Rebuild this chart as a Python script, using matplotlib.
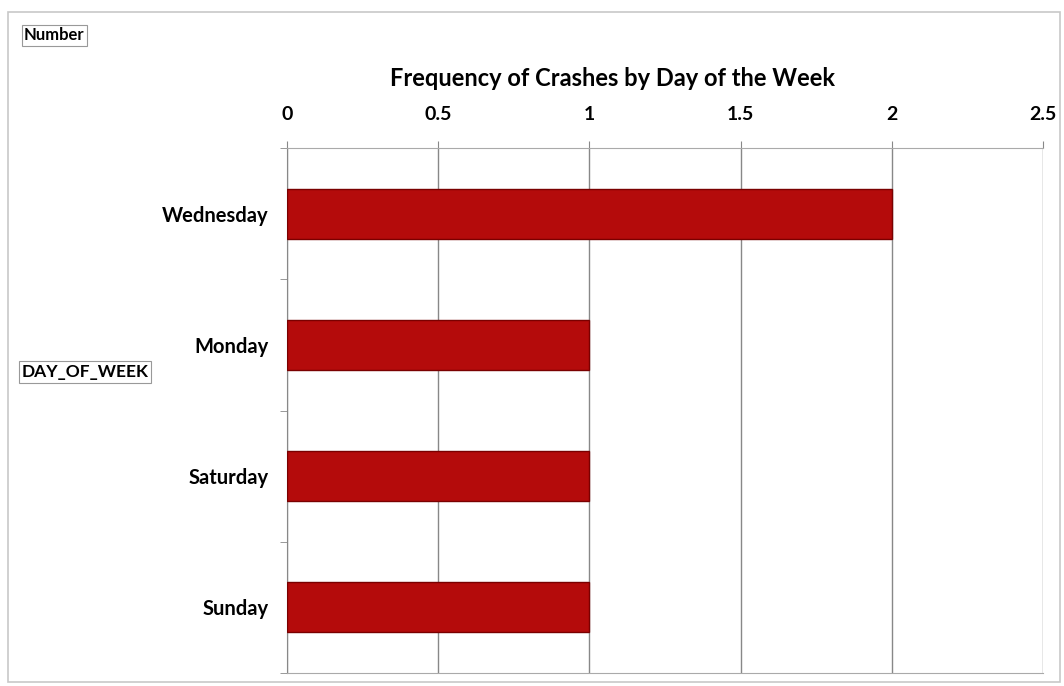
import matplotlib.pyplot as plt
from matplotlib.patches import Rectangle
import numpy as np

days = ['Wednesday', 'Monday', 'Saturday', 'Sunday']
crashes = [2, 1, 1, 1]
x_ticks = [0, 0.5, 1, 1.5, 2, 2.5]
x_labels = ['0', '0.5', '1', '1.5', '2', '2.5']

plt.rcParams['font.family'] = ['Lato', 'DejaVu Sans']
plt.rcParams['font.weight'] = 'bold'

W, H = 1064, 686
fig = plt.figure(figsize=(W / 100, H / 100), dpi=100)
fig.patch.set_facecolor('white')

# outer chart border
fig.patches.append(Rectangle((8 / W, 4 / H), 1052 / W, 670 / H, transform=fig.transFigure,
                             fill=False, edgecolor='#c8c8c8', linewidth=1.2))

ax = fig.add_axes([287 / W, (H - 673) / H, (1043 - 287) / W, (673 - 148) / H])
ypos = np.arange(len(days))
ax.barh(ypos, crashes, height=0.38, color='#b40b0b', edgecolor='#7a0000', linewidth=1, zorder=3)

ax.set_ylim(len(days) - 0.5, -0.5)
ax.set_xlim(0, 2.5)
ax.set_yticks(ypos)
ax.set_yticklabels(days, fontsize=14.5, fontweight='bold')
ax.set_yticks(np.arange(len(days) + 1) - 0.5, minor=True)
ax.tick_params(axis='y', which='major', length=0, pad=13)
ax.tick_params(axis='y', which='minor', length=5, color='#888888')

ax.xaxis.tick_top()
ax.set_xticks(x_ticks)
ax.set_xticklabels(x_labels, fontsize=14, fontweight='bold')
ax.tick_params(axis='x', length=5, color='#888888', pad=13)
ax.grid(axis='x', color='#888888', linewidth=1, zorder=0)

for side in ['top', 'bottom']:
    ax.spines[side].set_color('#aaaaaa')
ax.spines['right'].set_visible(False)
ax.spines['left'].set_color('#888888')

fig.text(612 / W, 1 - 78 / H, 'Frequency of Crashes by Day of the Week', ha='center', va='center',
         fontsize=17, fontweight='bold')

box = dict(boxstyle='square,pad=0.15', facecolor='white', edgecolor='#999999', linewidth=0.8)
fig.text(24 / W, 1 - 35 / H, 'Number', ha='left', va='center', fontsize=12, fontweight='bold', bbox=box)
fig.text(22 / W, 1 - 372 / H, 'DAY_OF_WEEK', ha='left', va='center', fontsize=12.5, fontweight='bold', bbox=box)

fig.savefig('out.png', dpi=100)
